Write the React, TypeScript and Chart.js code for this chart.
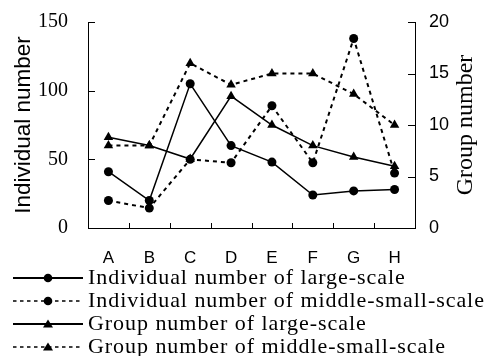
import React, { useEffect, useRef } from 'react';
import { Chart, registerables } from 'chart.js';

Chart.register(...registerables);

const categories = ['A', 'B', 'C', 'D', 'E', 'F', 'G', 'H'];
const indLarge = [41, 20, 105, 60, 48, 24, 27, 28];
const indMidSmall = [20, 14.5, 50, 47.5, 89, 47.5, 138, 40];
const grpLarge = [8.8, 8, 6.7, 12.8, 10, 8, 6.9, 6];
const grpMidSmall = [8, 8, 16, 13.9, 15, 15, 13, 10];
const leftTicks = [0, 50, 100, 150];
const rightTicks = [0, 5, 10, 15, 20];
const seriesLabels = [
  'Individual number of large-scale',
  'Individual number of middle-small-scale',
  'Group number of large-scale',
  'Group number of middle-small-scale',
];
const leftTitle = 'Individual number';
const rightTitle = 'Group number';

const SERIF = '"Liberation Serif", "Times New Roman", serif';
const SANS = '"Liberation Sans", Arial, sans-serif';
const DASH = [4, 4];

const decorPlugin = {
  id: 'decor',
  afterDraw(chart: any) {
    const { ctx, chartArea, scales } = chart;
    const { left, right, top, bottom } = chartArea;
    ctx.save();
    ctx.strokeStyle = '#000';
    ctx.lineWidth = 1;
    // inward x ticks at category boundaries
    const n = categories.length;
    const step = (right - left) / n;
    ctx.beginPath();
    for (let i = 1; i < n; i++) {
      const x = Math.round(left + i * step) + 0.5;
      ctx.moveTo(x, bottom);
      ctx.lineTo(x, bottom - 5);
    }
    // left y inward ticks
    leftTicks.forEach((v) => {
      if (v === 0) return;
      const y = Math.round(scales.y.getPixelForValue(v)) + 0.5;
      ctx.moveTo(left, y);
      ctx.lineTo(left + 7, y);
    });
    rightTicks.forEach((v) => {
      if (v === 0) return;
      const y = Math.round(scales.y2.getPixelForValue(v)) + 0.5;
      ctx.moveTo(right, y);
      ctx.lineTo(right - 7, y);
    });
    ctx.stroke();

    // right axis title (reads bottom to top)
    ctx.fillStyle = '#000';
    ctx.font = `24px ${SERIF}`;
    ctx.textAlign = 'center';
    ctx.textBaseline = 'middle';
    ctx.translate(466, (top + bottom) / 2);
    ctx.rotate(-Math.PI / 2);
    ctx.fillText(rightTitle, 0, 0);
    ctx.restore();

    // legend
    ctx.save();
    const rows = [278, 301, 324, 347];
    const dashed = [false, true, false, true];
    const markers = ['circle', 'circle', 'triangle', 'triangle'];
    rows.forEach((y, i) => {
      ctx.strokeStyle = '#000';
      ctx.fillStyle = '#000';
      ctx.lineWidth = dashed[i] ? 1.6 : 1.8;
      ctx.setLineDash(dashed[i] ? [3.5, 3.5] : []);
      ctx.beginPath();
      ctx.moveTo(13, y);
      ctx.lineTo(83, y);
      ctx.stroke();
      ctx.setLineDash([]);
      const mx = 48;
      ctx.beginPath();
      if (markers[i] === 'circle') {
        ctx.arc(mx, y, 4.3, 0, Math.PI * 2);
      } else {
        ctx.moveTo(mx, y - 4.5);
        ctx.lineTo(mx + 5, y + 3.5);
        ctx.lineTo(mx - 5, y + 3.5);
        ctx.closePath();
      }
      ctx.fill();
      ctx.font = `22px ${SERIF}`;
      (ctx as any).letterSpacing = '0.95px';
      ctx.textAlign = 'left';
      ctx.textBaseline = 'middle';
      ctx.fillText(seriesLabels[i], 88, y);
    });
    ctx.restore();
  },
};

export default function App() {
  const ref = useRef<HTMLCanvasElement>(null);
  useEffect(() => {
    document.body.style.margin = '0';
    const canvas = ref.current;
    if (!canvas) return;
    const lineDs = (
      label: string,
      data: number[],
      axis: string,
      dashed: boolean,
      style: string
    ) => ({
      label,
      data,
      yAxisID: axis,
      borderColor: '#000',
      backgroundColor: '#000',
      borderWidth: dashed ? 2 : 1.5,
      borderDash: dashed ? DASH : [],
      pointStyle: style,
      pointRadius: style === 'circle' ? 4.5 : 5.5,
      pointBorderWidth: 0,
      pointBackgroundColor: '#000',
      tension: 0,
      fill: false,
    });
    const chart = new Chart(canvas, {
      type: 'line',
      data: {
        labels: categories,
        datasets: [
          lineDs(seriesLabels[0], indLarge, 'y', false, 'circle'),
          lineDs(seriesLabels[1], indMidSmall, 'y', true, 'circle'),
          lineDs(seriesLabels[2], grpLarge, 'y2', false, 'triangle'),
          lineDs(seriesLabels[3], grpMidSmall, 'y2', true, 'triangle'),
        ] as any,
      },
      options: {
        responsive: false,
        animation: false,
        layout: { padding: { top: 22, left: 0, right: 0, bottom: 0 } },
        plugins: { legend: { display: false }, tooltip: { enabled: false } },
        scales: {
          x: {
            offset: true,
            grid: { display: false, drawTicks: false },
            border: { display: true, color: '#000', width: 1 },
            ticks: {
              color: '#000',
              font: { family: SANS, size: 17 },
              padding: 20,
              maxRotation: 0,
            },
            afterFit: (s: any) => {
              s.height = 128;
            },
          },
          y: {
            position: 'left',
            min: 0,
            max: 150,
            afterBuildTicks: (s: any) => {
              s.ticks = leftTicks.map((v) => ({ value: v }));
            },
            grid: { display: false, drawTicks: false },
            border: { display: true, color: '#000', width: 1 },
            ticks: {
              color: '#000',
              font: { family: SERIF, size: 20 },
              padding: 20,
            },
            title: {
              display: true,
              text: leftTitle,
              color: '#000',
              font: { family: SANS, size: 22.5 },
              padding: { top: 10, bottom: 0 },
            },
            afterFit: (s: any) => {
              s.width = 88;
              s.paddingTop = 0;
              s.paddingBottom = 0;
            },
          },
          y2: {
            position: 'right',
            min: 0,
            max: 20,
            afterBuildTicks: (s: any) => {
              s.ticks = rightTicks.map((v) => ({ value: v }));
            },
            grid: { display: false, drawTicks: false },
            border: { display: true, color: '#000', width: 1 },
            ticks: {
              color: '#000',
              font: { family: SANS, size: 18 },
              padding: 14,
            },
            afterFit: (s: any) => {
              s.width = 70;
              s.paddingTop = 0;
              s.paddingBottom = 0;
            },
          },
        },
      } as any,
      plugins: [decorPlugin],
    });
    return () => chart.destroy();
  }, []);
  return <canvas ref={ref} width={485} height={356} style={{ display: 'block' }} />;
}
